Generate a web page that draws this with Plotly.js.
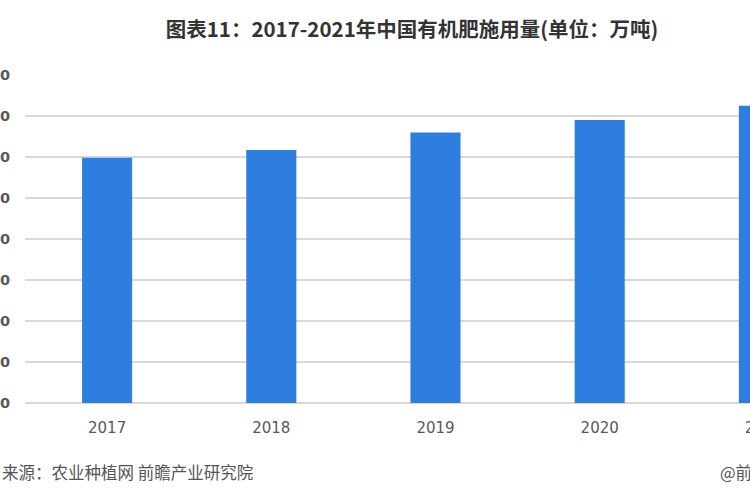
<!DOCTYPE html>
<html>
<head>
<meta charset="utf-8">
<script src="https://cdn.plot.ly/plotly-3.0.1.min.js"></script>
<style>
html, body { margin: 0; padding: 0; overflow: hidden; background: #fff; width: 750px; height: 500px; }
#chart { width: 870px; height: 500px; }
</style>
</head>
<body>
<div id="chart"></div>
<script>
// Data
const years = ['2017', '2018', '2019', '2020', '2021'];
const usage = [1196, 1234, 1320, 1380, 1450];   // 万吨 (estimated)
const yTicks = [0, 200, 400, 600, 800, 1000, 1200, 1400, 1600];
const titleText = '图表11：2017-2021年中国有机肥施用量(单位：万吨)';
const sourceText = '来源：农业种植网 前瞻产业研究院';
const creditText = '@前瞻经济学人';

const W = 870, H = 500;

const trace = {
  type: 'bar',
  x: years,
  y: usage,
  marker: { color: '#2e7ee0' },
  hoverinfo: 'none'
};

const layout = {
  width: W,
  height: H,
  margin: { l: 25, r: 24, t: 75, b: 97 },
  paper_bgcolor: '#ffffff',
  plot_bgcolor: '#ffffff',
  showlegend: false,
  bargap: 0.695,
  font: { family: '"Noto Sans CJK SC", "DejaVu Sans", sans-serif', color: '#595959' },
  title: {
    text: titleText,
    font: { family: '"Noto Sans CJK SC", sans-serif', size: 20.5, color: '#333333', weight: 'bold' },
    xref: 'container', yref: 'container',
    x: 412 / W, y: 1 - 30 / H,
    xanchor: 'center', yanchor: 'middle'
  },
  xaxis: {
    type: 'category',
    tickfont: { family: '"DejaVu Sans", sans-serif', size: 15, color: '#595959' },
    showgrid: false,
    showline: false,
    ticks: '',
    ticklabelstandoff: 14
  },
  yaxis: {
    range: [0, 1600],
    tickvals: yTicks,
    tickformat: ',',
    tickfont: { family: '"DejaVu Sans", sans-serif', size: 14.5, color: '#595959', weight: 'bold' },
    showgrid: true,
    gridcolor: '#d9d9d9',
    gridwidth: 1.5,
    zeroline: true,
    zerolinecolor: '#d9d9d9',
    zerolinewidth: 1.5,
    showline: false,
    ticks: '',
    ticklabelstandoff: 14,
    automargin: false
  },
  annotations: [
    {
      text: sourceText,
      xref: 'paper', yref: 'paper',
      x: -25 / (W - 49), y: -(472 - 403) / 328,
      xanchor: 'left', yanchor: 'middle',
      showarrow: false,
      font: { family: '"Noto Sans CJK SC", sans-serif', size: 16.5, color: '#555555' }
    },
    {
      text: creditText,
      xref: 'paper', yref: 'paper',
      x: (718 - 25) / (W - 49), y: -(472 - 403) / 328,
      xanchor: 'left', yanchor: 'middle',
      showarrow: false,
      font: { family: '"Noto Sans CJK SC", sans-serif', size: 16.5, color: '#555555' }
    }
  ]
};

Plotly.newPlot('chart', [trace], layout, { displayModeBar: false, staticPlot: true });
</script>
</body>
</html>
